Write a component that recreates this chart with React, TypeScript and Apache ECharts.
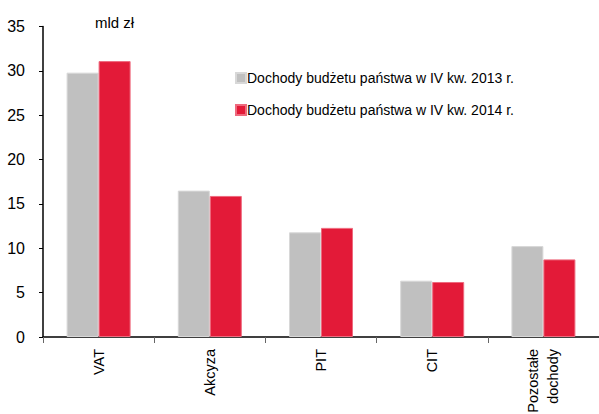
import React, { useEffect, useRef } from "react";
import * as echarts from "echarts";

const categories = ["VAT", "Akcyza", "PIT", "CIT", "Pozostałe\ndochody"];
const series2013 = [29.8, 16.5, 11.8, 6.35, 10.25];
const series2014 = [31.1, 15.9, 12.3, 6.2, 8.75];
const seriesNames = [
  "Dochody budżetu państwa w IV kw. 2013 r.",
  "Dochody budżetu państwa w IV kw. 2014 r.",
];
const unitLabel = "mld zł";

const FONT = "'Liberation Sans', Arial, sans-serif";

export default function App() {
  const ref = useRef<HTMLDivElement>(null);
  useEffect(() => {
    if (!ref.current) return;
    const chart = echarts.init(ref.current, undefined, { renderer: "svg" });
    chart.setOption({
      animation: false,
      textStyle: { fontFamily: FONT },
      grid: {
        left: 43,
        right: 0,
        top: 26.5,
        bottom: 77,
        containLabel: false,
        outerBoundsMode: "none",
      },
      legend: {
        orient: "vertical",
        left: 235,
        top: 70,
        padding: 0,
        itemWidth: 10,
        itemHeight: 10,
        itemGap: 16,
        icon: "rect",
        textStyle: {
          fontFamily: FONT,
          fontSize: 14,
          color: "#000",
          lineHeight: 16,
          padding: [0, 0, 0, -4],
        },
        data: seriesNames,
      },
      graphic: [
        {
          type: "text",
          left: 95,
          top: 15,
          style: { text: unitLabel, font: `15px ${FONT}`, fill: "#000" },
        },
      ],
      xAxis: {
        type: "category",
        data: categories,
        boundaryGap: true,
        axisLine: { lineStyle: { color: "#000", width: 1.5 } },
        axisTick: { show: true, length: 6, lineStyle: { color: "#666" } },
        axisLabel: {
          rotate: 90,
          margin: 12,
          fontSize: 14.5,
          fontFamily: FONT,
          color: "#000",
          lineHeight: 20,
          interval: 0,
        },
      },
      yAxis: {
        type: "value",
        min: 0,
        max: 35,
        interval: 5,
        splitLine: { show: false },
        axisLine: { show: true, lineStyle: { color: "#000", width: 1.5 } },
        axisTick: { show: true, length: 4, lineStyle: { color: "#000" } },
        axisLabel: { margin: 18, fontSize: 16, fontFamily: FONT, color: "#000" },
      },
      series: [
        {
          name: seriesNames[0],
          type: "bar",
          data: series2013,
          barWidth: 32,
          barGap: "0%",
          itemStyle: { color: "#C0C0C0", borderColor: "#D8D8D8", borderWidth: 1 },
        },
        {
          name: seriesNames[1],
          type: "bar",
          data: series2014,
          barWidth: 32,
          barGap: "0%",
          itemStyle: { color: "#E31A38", borderColor: "#EE6A7E", borderWidth: 1 },
        },
      ],
    });
    return () => chart.dispose();
  }, []);
  return <div ref={ref} style={{ width: 599, height: 414, position: "absolute", left: 0, top: 0 }} />;
}
